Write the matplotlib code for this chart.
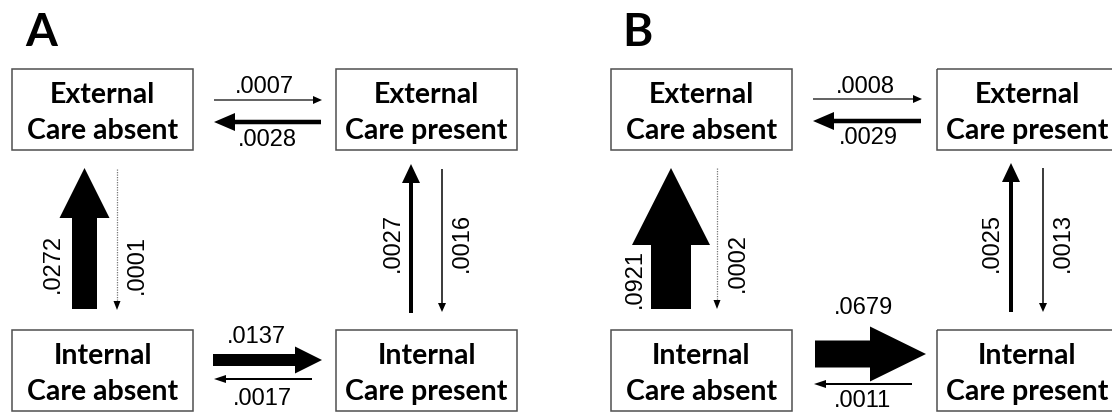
import matplotlib.pyplot as plt
from matplotlib.patches import Rectangle, FancyArrow

# ---------------- data ----------------
panels = ["A", "B"]
states = ["External\nCare absent", "External\nCare present",
          "Internal\nCare absent", "Internal\nCare present"]

# order: ExtAbs->ExtPres, ExtPres->ExtAbs, IntAbs->ExtAbs, ExtAbs->IntAbs,
#        IntPres->ExtPres, ExtPres->IntPres, IntAbs->IntPres, IntPres->IntAbs
rates_a = [0.0007, 0.0028, 0.0272, 0.0001, 0.0027, 0.0016, 0.0137, 0.0017]
rates_b = [0.0008, 0.0029, 0.0921, 0.0002, 0.0025, 0.0013, 0.0679, 0.0011]

# ---------------- layout (pixels) ----------------
box_w, box_h = 181, 81
box_pos_a = [(12, 69), (336, 69), (12, 330), (336, 330)]
box_pos_b = [(611, 69), (937, 69), (611, 330), (937, 330)]
letter_pos = [(25, 46), (622, 46)]

# (x1, y1, x2, y2, shaft, head_w, head_l, dotted), label (x, y, rotation)
geom_a = [
    ((214, 100, 322, 100, 1.2, 8, 9, False), (264, 87, 0)),
    ((321, 122, 214, 122, 4.5, 18, 21, False), (267, 140, 0)),
    ((84.5, 309, 84.5, 168, 25, 50, 50, False), (53, 263, 90)),
    ((117, 169, 117, 310, 1, 7, 9, True), (137, 264, 90)),
    ((411, 313, 411, 164, 4, 18, 19, False), (393, 242, 90)),
    ((442, 169, 442, 312, 1.5, 8, 9, False), (462, 242, 90)),
    ((213, 360, 322, 360, 12, 27, 27, False), (256, 337, 0)),
    ((312, 379, 214, 379, 2, 8, 12, False), (262, 399, 0)),
]
geom_b = [
    ((813, 99, 922, 99, 1.2, 8, 9, False), (865, 87, 0)),
    ((921, 121, 813, 121, 4.5, 18, 21, False), (868, 138, 0)),
    ((671, 309, 671, 168, 40, 78, 77, False), (635, 278, 90)),
    ((717, 168, 717, 309, 1, 7, 9, True), (738, 263, 90)),
    ((1011, 312, 1011, 163, 4, 18, 19, False), (992, 242, 90)),
    ((1043, 168, 1043, 312, 1.5, 8, 9, False), (1063, 242, 90)),
    ((815, 354, 926, 354, 27, 55, 56, False), (863, 308, 0)),
    ((912, 384, 814, 384, 2, 8, 12, False), (862, 401, 0)),
]

label_font = "Lato"
num_font = "Liberation Sans"


def draw_arrow(ax, x1, y1, x2, y2, w, hw, hl, dotted):
    dx, dy = x2 - x1, y2 - y1
    if dotted:
        ax.plot([x1, x2], [y1, y2 - hl], color="#777777", lw=0.9,
                ls=(0, (1, 1)), solid_capstyle="butt")
        ax.add_patch(FancyArrow(x2, y2 - hl, 0, hl, width=0, head_width=hw,
                                head_length=hl, length_includes_head=True,
                                color="black", lw=0))
    else:
        ax.add_patch(FancyArrow(x1, y1, dx, dy, width=w, head_width=hw,
                                head_length=hl, length_includes_head=True,
                                color="black", lw=0))


fig = plt.figure(figsize=(11.12, 4.12), dpi=100)
ax = fig.add_axes([0, 0, 1, 1])
ax.set_xlim(0, 1112)
ax.set_ylim(412, 0)
ax.axis("off")

for letter, lp, boxes, rates, geom in zip(panels, letter_pos,
                                          [box_pos_a, box_pos_b],
                                          [rates_a, rates_b],
                                          [geom_a, geom_b]):
    ax.text(lp[0], lp[1], letter, fontsize=33, fontweight="bold",
            family=label_font, ha="left", va="baseline")
    for name, (bx, by) in zip(states, boxes):
        ax.add_patch(Rectangle((bx, by), box_w, box_h, fill=False,
                               edgecolor="#505050", lw=1.1))
        line1, line2 = name.split("\n")
        cx = bx + box_w / 2
        ax.text(cx, by + 33.5, line1, fontsize=20.5, fontweight="bold",
                family=label_font, ha="center", va="baseline")
        ax.text(cx, by + 70, line2, fontsize=20.5, fontweight="bold",
                family=label_font, ha="center", va="baseline")
    for r, (arr, (lx, ly, rot)) in zip(rates, geom):
        draw_arrow(ax, *arr)
        ax.text(lx, ly, f"{r:.4f}".lstrip("0"), fontsize=17, family=num_font,
                ha="center", va="center", rotation=rot)

plt.savefig("out.png", dpi=100)
